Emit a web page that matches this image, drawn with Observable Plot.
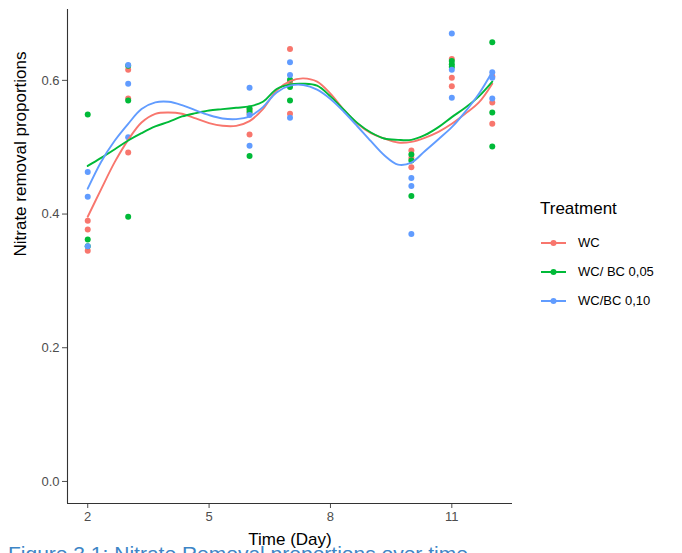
<!DOCTYPE html>
<html>
<head>
<meta charset="utf-8">
<script src="https://cdn.jsdelivr.net/npm/d3@7"></script>
<script src="https://cdn.jsdelivr.net/npm/@observablehq/plot@0.6"></script>
<style>
  html, body { margin: 0; padding: 0; background: #fff; overflow: hidden; width: 682px; height: 553px; }
  #wrap { position: relative; width: 682px; height: 553px; font-family: "Liberation Sans", Arial, sans-serif; }
  #legend { position: absolute; left: 540px; top: 199px; color: #000; }
  #legend .title { font-size: 17px; margin-bottom: 9px; }
  #legend .item { display: flex; align-items: center; height: 29px; font-size: 13px; }
  #legend svg { margin-right: 11px; }
  #caption { position: absolute; left: 8px; top: 543px; font-size: 21px; line-height: 21px; color: #3d85c6; white-space: nowrap; }
</style>
</head>
<body>
<div id="wrap">
  <div id="chart"></div>
  <div id="legend"></div>
  <div id="caption">Figure 3.1: Nitrate Removal proportions over time</div>
</div>
<script>
// Treatments and colours
const treatments = ["WC", "WC/ BC 0,05", "WC/BC 0,10"];
const colors = ["#F8766D", "#00BA38", "#619CFF"];

// Observations (3 replicates per day)
const pointDays = [2,2,2, 3,3,3, 6,6,6, 7,7,7, 10,10,10, 11,11,11, 12,12,12];
const wcValues   = [0.390,0.377,0.345, 0.616,0.573,0.492, 0.556,0.519,0.550, 0.647,0.597,0.550, 0.495,0.484,0.470, 0.632,0.604,0.591, 0.606,0.567,0.535];
const bc05Values = [0.549,0.362,0.352, 0.622,0.570,0.396, 0.553,0.487,0.558, 0.601,0.570,0.590, 0.489,0.480,0.427, 0.629,0.620,0.624, 0.657,0.552,0.501];
const bc10Values = [0.463,0.426,0.352, 0.623,0.595,0.515, 0.589,0.502,0.548, 0.627,0.608,0.544, 0.454,0.442,0.370, 0.670,0.616,0.574, 0.612,0.573,0.604];

// Smoothed (loess) curves
const smoothDays = [2,2.33,2.67,3,3.33,3.67,4,4.33,4.67,5,5.33,5.67,6,6.33,6.67,7,7.33,7.67,8,8.33,8.67,9,9.33,9.67,10,10.33,10.67,11,11.33,11.67,12];
const wcSmooth   = [0.396,0.437,0.478,0.511,0.537,0.550,0.552,0.550,0.543,0.536,0.532,0.532,0.539,0.557,0.585,0.599,0.603,0.598,0.580,0.556,0.535,0.521,0.513,0.507,0.508,0.514,0.523,0.535,0.550,0.567,0.595];
const bc05Smooth = [0.472,0.484,0.497,0.510,0.521,0.531,0.538,0.546,0.551,0.555,0.557,0.559,0.561,0.568,0.587,0.594,0.595,0.592,0.576,0.556,0.536,0.522,0.513,0.511,0.511,0.518,0.530,0.545,0.559,0.576,0.598];
const bc10Smooth = [0.438,0.478,0.510,0.535,0.557,0.567,0.568,0.563,0.555,0.548,0.543,0.542,0.546,0.560,0.582,0.592,0.593,0.586,0.572,0.553,0.531,0.509,0.488,0.474,0.477,0.494,0.512,0.530,0.553,0.580,0.613];

// Axis ticks
const xTicks = [2, 5, 8, 11];
const yTicks = [0.0, 0.2, 0.4, 0.6];

const seriesValues = [wcValues, bc05Values, bc10Values];
const seriesSmooth = [wcSmooth, bc05Smooth, bc10Smooth];

const points = [];
treatments.forEach((t, k) => pointDays.forEach((d, i) => points.push({day: d, value: seriesValues[k][i], treatment: t})));
const smooth = [];
treatments.forEach((t, k) => smoothDays.forEach((d, i) => smooth.push({day: d, value: seriesSmooth[k][i], treatment: t})));

const xDomain = [1.5, 12.5];
const yDomain = [-0.033, 0.706];

const chart = Plot.plot({
  width: 682,
  height: 553,
  marginLeft: 67,
  marginRight: 170,
  marginTop: 9,
  marginBottom: 50,
  style: {fontFamily: "'Liberation Sans', Arial, sans-serif", background: "transparent"},
  x: {domain: xDomain},
  y: {domain: yDomain},
  color: {domain: treatments, range: colors},
  marks: [
    Plot.axisX({ticks: xTicks, tickSize: 5, tickPadding: 3, fontSize: 13, color: "#4d4d4d", label: null}),
    Plot.axisY({ticks: yTicks, tickSize: 5, tickPadding: 3, fontSize: 13, color: "#4d4d4d", tickFormat: d3.format(".1f"), label: null}),
    Plot.ruleX([xDomain[0]], {stroke: "#333", strokeWidth: 1.1}),
    Plot.ruleY([yDomain[0]], {stroke: "#333", strokeWidth: 1.1}),
    Plot.dot(points, {x: "day", y: "value", fill: "treatment", r: 3}),
    Plot.line(smooth, {x: "day", y: "value", stroke: "treatment", z: "treatment", curve: "catmull-rom", strokeWidth: 1.9}),
    Plot.text(["Time (Day)"], {frameAnchor: "bottom", dy: 41, fontSize: 17, fill: "#000"}),
    Plot.text(["Nitrate removal proportions"], {frameAnchor: "left", dx: -47, rotate: -90, fontSize: 17, fill: "#000"})
  ]
});
document.getElementById("chart").appendChild(chart);

// Legend
const legend = document.getElementById("legend");
const title = document.createElement("div");
title.className = "title";
title.textContent = "Treatment";
legend.appendChild(title);
treatments.forEach((t, k) => {
  const item = document.createElement("div");
  item.className = "item";
  item.innerHTML = `<svg width="27" height="10"><line x1="1" x2="26" y1="5" y2="5" stroke="${colors[k]}" stroke-width="2"/><circle cx="13.5" cy="5" r="3" fill="${colors[k]}"/></svg><span>${t}</span>`;
  legend.appendChild(item);
});
</script>
</body>
</html>
